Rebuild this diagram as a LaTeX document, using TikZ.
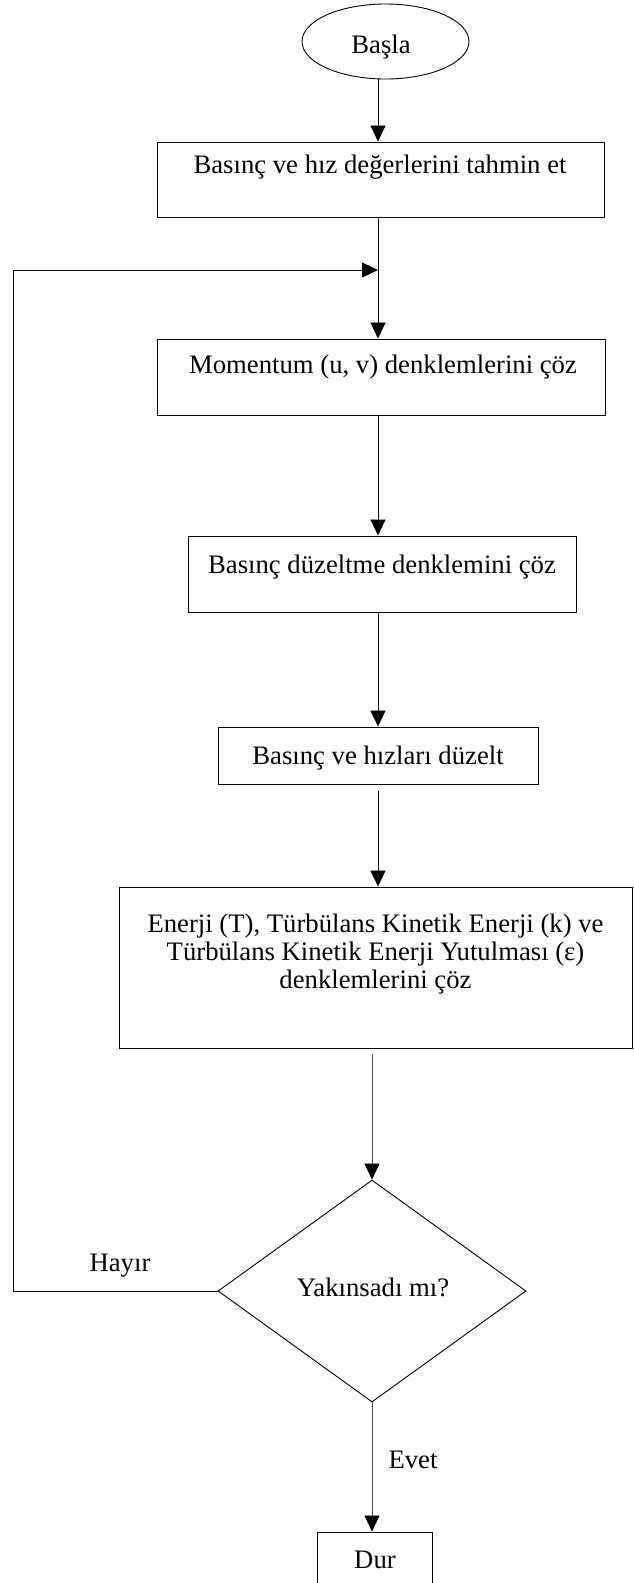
\documentclass[tikz,border=0pt]{standalone}
\usepackage{fontspec}
\setmainfont{Liberation Serif}
\usetikzlibrary{arrows.meta,shapes.geometric}
\begin{document}
\begin{tikzpicture}[x=1pt,y=-1pt,
  box/.style={draw=black, line width=1pt, rectangle, inner sep=0pt},
  lbl/.style={inner sep=0pt, anchor=base, font=\fontsize{26.7}{28}\selectfont},
  link/.style={draw=black, line width=0.9pt, -{Triangle[width=15pt,length=16pt,color=black]}},
  soft/.style={draw=black!70, line width=0.8pt}]
\useasboundingbox (0,0) rectangle (633,1583);
\fill[white] (0,0) rectangle (633,1583);

% shapes of the flow chart
\node[ellipse, draw, line width=0.9pt, minimum width=167pt, minimum height=75pt, inner sep=0pt] (start) at (385.5,41.5) {};
\node[box, minimum width=447pt, minimum height=75pt] (b1) at (380.5,179.5) {};
\node[box, minimum width=448pt, minimum height=76pt] (b2) at (381.5,377) {};
\node[box, minimum width=388pt, minimum height=76pt] (b3) at (382,574) {};
\node[box, minimum width=320pt, minimum height=57pt] (b4) at (378,755.5) {};
\node[box, minimum width=513pt, minimum height=161pt] (b5) at (375.5,967.5) {};
\node[diamond, draw, line width=0.9pt, minimum width=308pt, minimum height=222pt, inner sep=0pt] (dia) at (372,1291) {};
\node[box, minimum width=115pt, minimum height=60pt] (dur) at (374.5,1562) {};

% texts
\node[lbl] (tstart) at (381,53) {Başla};
\node[lbl] (t1) at (380,173) {Basınç ve hız değerlerini tahmin et};
\node[lbl] (t2) at (383,373) {Momentum (u, v) denklemlerini çöz};
\node[lbl] (t3) at (382,573) {Basınç düzeltme denklemini çöz};
\node[lbl] (t4) at (378,764) {Basınç ve hızları düzelt};
\node[lbl, anchor=north, align=center] (t5) at (375.5,914)
  {Enerji (T), Türbülans Kinetik Enerji (k) ve\\Türbülans Kinetik Enerji Yutulması (ε)\\denklemlerini çöz};
\node[lbl] (tdia) at (373,1296) {Yakınsadı mı?};
\node[lbl] (tdur) at (375,1568) {Dur};
\node[lbl] (tno) at (120,1271) {Hayır};
\node[lbl] (tyes) at (413,1468) {Evet};

% connectors
\coordinate (spine) at (378,0);
\coordinate (loopL) at (13,270);
\coordinate (merge) at (378,270);
\draw[link] (spine |- start.south) -- (spine |- b1.north);
\draw[link] (spine |- b1.south) -- (spine |- b2.north);
\draw[link] (spine |- b2.south) -- (spine |- b3.north);
\draw[link] (spine |- b3.south) -- (spine |- b4.north);
\draw[link, shorten <=6pt] (spine |- b4.south) -- (spine |- b5.north);
\draw[link, soft, shorten <=5pt] (dia.north |- b5.south) -- (dia.north);
\draw[link, soft] (dia.south) -- (dia.south |- dur.north);
\draw[link] (dia.west) -| (loopL) -- (merge);
\end{tikzpicture}
\end{document}
